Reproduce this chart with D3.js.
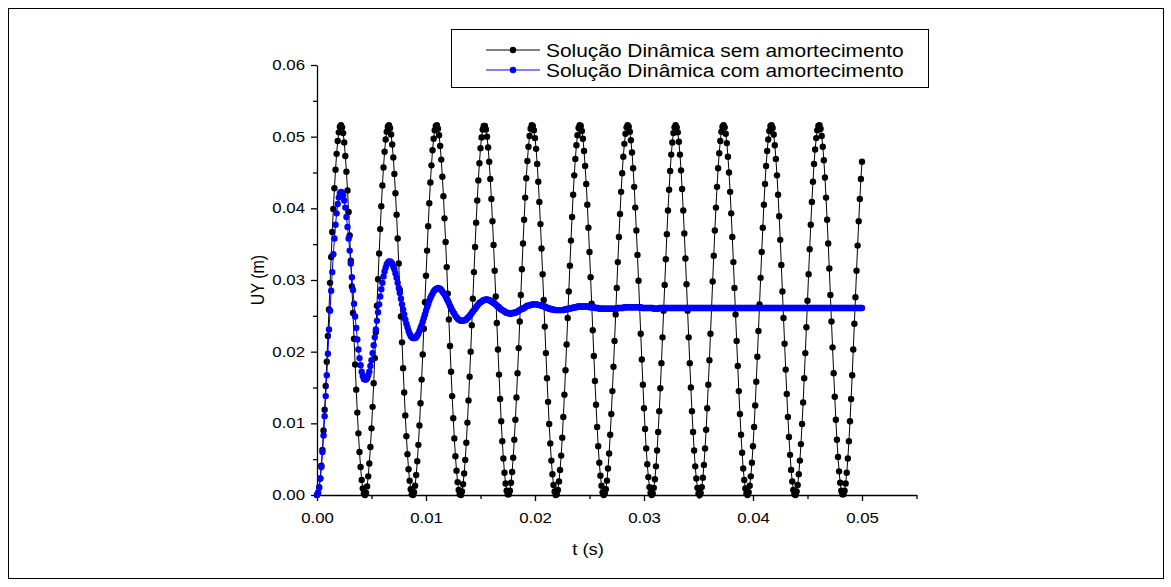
<!DOCTYPE html>
<html>
<head>
<meta charset="utf-8">
<script src="https://cdn.jsdelivr.net/npm/d3@7"></script>
<style>
  html, body { margin: 0; padding: 0; background: #fff; }
  svg { display: block; }
  text { font-family: "Liberation Sans", Arial, sans-serif; fill: #000; }
</style>
</head>
<body>
<svg id="chart" width="1171" height="587"></svg>
<script>
// Sampling interval of both responses (s)
const timeStep = 0.0001;

// UY (m) without damping, one value per time step from t = 0 to t = 0.05 s
const uySemAmortecimento = [
  0.0000,0.0003,0.0011,0.0023,0.0041,0.0063,0.0090,0.0119,0.0152,0.0186,0.0222,0.0259,0.0296,0.0332,0.0367,0.0399,0.0428,0.0454,0.0476,0.0494,0.0506,0.0514,0.0516,0.0513,0.0505,0.0492,0.0473,0.0451,0.0425,0.0395,0.0362,0.0327,0.0291,0.0254,0.0218,0.0182,0.0147,0.0115,0.0086,0.0060,0.0039,0.0021,0.0009,0.0002,
  0.0000,0.0003,0.0012,0.0026,0.0044,0.0067,0.0093,0.0123,0.0156,0.0191,0.0227,0.0264,0.0301,0.0337,0.0371,0.0403,0.0432,0.0457,0.0479,0.0496,0.0507,0.0514,0.0516,0.0512,0.0503,0.0489,0.0471,0.0448,0.0421,0.0391,0.0358,0.0323,0.0286,0.0249,0.0213,0.0177,0.0143,0.0111,0.0082,0.0057,0.0036,0.0020,0.0008,0.0001,
  0.0000,0.0004,0.0013,0.0028,0.0047,0.0070,0.0097,0.0128,0.0161,0.0196,0.0232,0.0269,0.0306,0.0341,0.0375,0.0407,0.0436,0.0460,0.0481,0.0497,0.0509,0.0515,0.0516,0.0511,0.0502,0.0487,0.0468,0.0444,0.0417,0.0386,0.0353,0.0318,0.0281,0.0245,0.0208,0.0172,0.0138,0.0107,0.0079,0.0054,0.0034,0.0018,0.0007,0.0001,
  0.0000,0.0005,0.0015,0.0030,0.0049,0.0073,0.0101,0.0132,0.0165,0.0200,0.0237,0.0274,0.0311,0.0346,0.0380,0.0411,0.0439,0.0463,0.0484,0.0499,0.0510,0.0515,0.0515,0.0510,0.0500,0.0485,0.0465,0.0441,0.0413,0.0382,0.0349,0.0313,0.0277,0.0240,0.0203,0.0168,0.0134,0.0103,0.0075,0.0051,0.0031,0.0016,0.0006,0.0001,
  0.0001,0.0006,0.0017,0.0032,0.0052,0.0077,0.0105,0.0136,0.0170,0.0205,0.0242,0.0279,0.0315,0.0351,0.0384,0.0415,0.0442,0.0466,0.0486,0.0501,0.0511,0.0516,0.0515,0.0509,0.0498,0.0483,0.0462,0.0437,0.0409,0.0378,0.0344,0.0308,0.0272,0.0235,0.0198,0.0163,0.0130,0.0099,0.0072,0.0048,0.0029,0.0014,0.0005,0.0000,
  0.0001,0.0007,0.0019,0.0035,0.0055,0.0080,0.0109,0.0140,0.0174,0.0210,0.0247,0.0284,0.0320,0.0355,0.0388,0.0419,0.0446,0.0469,0.0488,0.0502,0.0512,0.0516,0.0515,0.0508,0.0497,0.0480,0.0459,0.0434,0.0405,0.0373,0.0339,0.0304,0.0267,0.0230,0.0194,0.0159,0.0126,0.0095,0.0068,0.0045,0.0027,0.0013,0.0004,0.0000,
  0.0002,0.0008,0.0020,0.0037,0.0058,0.0084,0.0113,0.0145,0.0179,0.0215,0.0252,0.0289,0.0325,0.0360,0.0392,0.0423,0.0449,0.0472,0.0490,0.0504,0.0513,0.0516,0.0514,0.0507,0.0495,0.0478,0.0456,0.0430,0.0401,0.0369,0.0335,0.0299,0.0262,0.0225,0.0189,0.0154,0.0121,0.0092,0.0065,0.0043,0.0025,0.0011,0.0003,0.0000,
  0.0002,0.0010,0.0022,0.0040,0.0062,0.0088,0.0117,0.0149,0.0184,0.0220,0.0257,0.0293,0.0329,0.0364,0.0397,0.0426,0.0452,0.0475,0.0492,0.0505,0.0513,0.0516,0.0513,0.0506,0.0493,0.0475,0.0453,0.0427,0.0397,0.0365,0.0330,0.0294,0.0257,0.0220,0.0184,0.0150,0.0117,0.0088,0.0062,0.0040,0.0023,0.0010,0.0002,0.0000,
  0.0003,0.0011,0.0024,0.0042,0.0065,0.0091,0.0121,0.0154,0.0188,0.0225,0.0261,0.0298,0.0334,0.0369,0.0401,0.0430,0.0456,0.0477,0.0494,0.0507,0.0514,0.0516,0.0513,0.0504,0.0491,0.0472,0.0450,0.0423,0.0393,0.0360,0.0325,0.0289,0.0252,0.0215,0.0180,0.0145,0.0113,0.0084,0.0059,0.0037,0.0021,0.0009,0.0002,0.0000,
  0.0004,0.0013,0.0026,0.0045,0.0068,0.0095,0.0125,0.0158,0.0193,0.0229,0.0266,0.0303,0.0339,0.0373,0.0405,0.0434,0.0459,0.0480,0.0496,0.0508,0.0515,0.0516,0.0512,0.0503,0.0488,0.0469,0.0446,0.0419,0.0389,0.0356,0.0321,0.0284,0.0247,0.0211,0.0175,0.0141,0.0109,0.0081,0.0056,0.0035,0.0019,0.0007,0.0001,0.0000,
  0.0005,0.0014,0.0029,0.0048,0.0071,0.0099,0.0129,0.0163,0.0198,0.0234,0.0271,0.0308,0.0343,0.0377,0.0409,0.0437,0.0462,0.0482,0.0498,0.0509,0.0515,0.0516,0.0511,0.0501,0.0486,0.0467,0.0443,0.0415,0.0384,0.0351,0.0316,0.0279,0.0242,0.0206,0.0170,0.0137,0.0105,0.0077,0.0053,0.0033,0.0017,0.0006,0.0001,0.0001,
  0.0006,0.0016,0.0031,0.0051,0.0075,0.0103,0.0134,0.0167,0.0203,0.0239,0.0276,0.0313,0.0348,0.0382,0.0413,0.0441,0.0465
];

// UY (m) with damping, same time grid
const uyComAmortecimento = [
  0.0000,0.0003,0.0010,0.0023,0.0039,0.0060,0.0083,0.0110,0.0138,0.0167,
  0.0197,0.0231,0.0257,0.0285,0.0311,0.0336,0.0358,0.0377,0.0393,0.0406,
  0.0415,0.0421,0.0423,0.0422,0.0418,0.0411,0.0401,0.0388,0.0374,0.0358,
  0.0341,0.0323,0.0304,0.0286,0.0267,0.0249,0.0233,0.0217,0.0203,0.0191,
  0.0181,0.0172,0.0166,0.0162,0.0161,0.0161,0.0163,0.0167,0.0172,0.0180,
  0.0188,0.0198,0.0209,0.0220,0.0231,0.0243,0.0255,0.0266,0.0277,0.0287,
  0.0296,0.0305,0.0312,0.0317,0.0322,0.0324,0.0326,0.0326,0.0325,0.0323,
  0.0319,0.0315,0.0309,0.0303,0.0296,0.0289,0.0282,0.0274,0.0266,0.0259,
  0.0252,0.0245,0.0239,0.0234,0.0229,0.0225,0.0222,0.0220,0.0219,0.0219,
  0.0219,0.0220,0.0223,0.0225,0.0229,0.0233,0.0237,0.0242,0.0247,0.0252,
  0.0257,0.0262,0.0266,0.0271,0.0275,0.0278,0.0281,0.0284,0.0286,0.0287,
  0.0288,0.0289,0.0288,0.0288,0.0286,0.0284,0.0282,0.0280,0.0277,0.0274,
  0.0271,0.0268,0.0264,0.0261,0.0258,0.0255,0.0253,0.0250,0.0248,0.0246,
  0.0245,0.0244,0.0243,0.0243,0.0243,0.0244,0.0244,0.0245,0.0247,0.0248,
  0.0250,0.0252,0.0254,0.0256,0.0258,0.0260,0.0262,0.0264,0.0266,0.0268,
  0.0269,0.0270,0.0271,0.0272,0.0272,0.0273,0.0273,0.0272,0.0272,0.0271,
  0.0270,0.0269,0.0268,0.0267,0.0266,0.0264,0.0263,0.0262,0.0260,0.0259,
  0.0258,0.0257,0.0256,0.0255,0.0254,0.0254,0.0254,0.0253,0.0253,0.0254,
  0.0254,0.0254,0.0255,0.0255,0.0256,0.0257,0.0258,0.0259,0.0260,0.0260,
  0.0261,0.0262,0.0263,0.0264,0.0264,0.0265,0.0265,0.0266,0.0266,0.0266,
  0.0266,0.0266,0.0266,0.0265,0.0265,0.0265,0.0264,0.0264,0.0263,0.0263,
  0.0262,0.0261,0.0261,0.0260,0.0260,0.0259,0.0259,0.0259,0.0258,0.0258,
  0.0258,0.0258,0.0258,0.0258,0.0258,0.0258,0.0258,0.0259,0.0259,0.0259,
  0.0260,0.0260,0.0260,0.0261,0.0261,0.0261,0.0262,0.0262,0.0262,0.0263,
  0.0263,0.0263,0.0263,0.0263,0.0263,0.0263,0.0263,0.0263,0.0263,0.0263,
  0.0262,0.0262,0.0262,0.0262,0.0262,0.0261,0.0261,0.0261,0.0261,0.0260,
  0.0260,0.0260,0.0260,0.0260,0.0260,0.0260,0.0260,0.0260,0.0260,0.0260,
  0.0260,0.0260,0.0260,0.0260,0.0260,0.0260,0.0261,0.0261,0.0261,0.0261,
  0.0261,0.0261,0.0262,0.0262,0.0262,0.0262,0.0262,0.0262,0.0262,0.0262,
  0.0262,0.0262,0.0262,0.0262,0.0262,0.0262,0.0262,0.0262,0.0261,0.0261,
  0.0261,0.0261,0.0261,0.0261,0.0261,0.0261,0.0261,0.0261,0.0261,0.0260,
  0.0260,0.0260,0.0260,0.0260,0.0261,0.0261,0.0261,0.0261,0.0261,0.0261,
  0.0261,0.0261,0.0261,0.0261,0.0261,0.0261,0.0261,0.0261,0.0261,0.0261,
  0.0261,0.0261,0.0261,0.0261,0.0261,0.0261,0.0261,0.0261,0.0261,0.0261,
  0.0261,0.0261,0.0261,0.0261,0.0261,0.0261,0.0261,0.0261,0.0261,0.0261,
  0.0261,0.0261,0.0261,0.0261,0.0261,0.0261,0.0261,0.0261,0.0261,0.0261,
  0.0261,0.0261,0.0261,0.0261,0.0261,0.0261,0.0261,0.0261,0.0261,0.0261,
  0.0261,0.0261,0.0261,0.0261,0.0261,0.0261,0.0261,0.0261,0.0261,0.0261,
  0.0261,0.0261,0.0261,0.0261,0.0261,0.0261,0.0261,0.0261,0.0261,0.0261,
  0.0261,0.0261,0.0261,0.0261,0.0261,0.0261,0.0261,0.0261,0.0261,0.0261,
  0.0261,0.0261,0.0261,0.0261,0.0261,0.0261,0.0261,0.0261,0.0261,0.0261,
  0.0261,0.0261,0.0261,0.0261,0.0261,0.0261,0.0261,0.0261,0.0261,0.0261,
  0.0261,0.0261,0.0261,0.0261,0.0261,0.0261,0.0261,0.0261,0.0261,0.0261,
  0.0261,0.0261,0.0261,0.0261,0.0261,0.0261,0.0261,0.0261,0.0261,0.0261,
  0.0261,0.0261,0.0261,0.0261,0.0261,0.0261,0.0261,0.0261,0.0261,0.0261,
  0.0261,0.0261,0.0261,0.0261,0.0261,0.0261,0.0261,0.0261,0.0261,0.0261,
  0.0261,0.0261,0.0261,0.0261,0.0261,0.0261,0.0261,0.0261,0.0261,0.0261,
  0.0261,0.0261,0.0261,0.0261,0.0261,0.0261,0.0261,0.0261,0.0261,0.0261,
  0.0261,0.0261,0.0261,0.0261,0.0261,0.0261,0.0261,0.0261,0.0261,0.0261,
  0.0261,0.0261,0.0261,0.0261,0.0261,0.0261,0.0261,0.0261,0.0261,0.0261,
  0.0261
];

// Axis ticks
const xMajorTicks = [0, 0.01, 0.02, 0.03, 0.04, 0.05];
const xMinorTicks = [0.005, 0.015, 0.025, 0.035, 0.045, 0.055];
const yMajorTicks = [0, 0.01, 0.02, 0.03, 0.04, 0.05, 0.06];
const yMinorTicks = [0.005, 0.015, 0.025, 0.035, 0.045, 0.055];

// Series labels and colours
const legendLabels = ["Solução Dinâmica sem amortecimento", "Solução Dinâmica com amortecimento"];
const seriesColors = ["#000000", "#0000ff"];

const svg = d3.select("#chart");

// Outer frame
svg.append("rect")
  .attr("x", 8.5).attr("y", 8.5).attr("width", 1155).attr("height", 570)
  .attr("fill", "none").attr("stroke", "#000").attr("stroke-width", 1);

const x = d3.scaleLinear().domain([0, 0.055]).range([317, 916.5]);
const y = d3.scaleLinear().domain([0, 0.06]).range([495, 65]);

const TEXT_SX = 1.2;   // horizontal stretch of the tick labels

// X axis
const gx = svg.append("g").attr("transform", "translate(0,495)");
gx.call(d3.axisBottom(x).tickValues(xMajorTicks).tickSize(6).tickPadding(12)
  .tickSizeOuter(0).tickFormat(d3.format(".2f")));
gx.append("g").call(d3.axisBottom(x).tickValues(xMinorTicks).tickSize(4).tickFormat(""))
  .select(".domain").remove();

// Y axis
const gy = svg.append("g").attr("transform", "translate(317,0)");
gy.call(d3.axisLeft(y).tickValues(yMajorTicks).tickSize(6).tickPadding(4)
  .tickSizeOuter(0).tickFormat(d3.format(".2f")));
gy.append("g").call(d3.axisLeft(y).tickValues(yMinorTicks).tickSize(4).tickFormat(""))
  .select(".domain").remove();

[gx, gy].forEach(g => {
  g.attr("font-family", null).attr("font-size", null);
  g.selectAll("path, line").attr("stroke", "#000").attr("stroke-width", 1.3);
  g.selectAll(".tick text")
    .attr("font-size", 14)
    .attr("transform", `scale(${TEXT_SX},1)`);
});

// Response curves: connecting line plus a dot per sample
const line = d3.line()
  .x((d, i) => x(i * timeStep))
  .y(d => y(d));

[uySemAmortecimento, uyComAmortecimento].forEach((vals, s) => {
  const g = svg.append("g");
  g.append("path").datum(vals)
    .attr("d", line)
    .attr("fill", "none")
    .attr("stroke", seriesColors[s])
    .attr("stroke-width", 1);
  g.selectAll("circle").data(vals).join("circle")
    .attr("cx", (d, i) => x(i * timeStep))
    .attr("cy", d => y(d))
    .attr("r", 3.2)
    .attr("fill", seriesColors[s]);
});

// Axis titles
svg.append("text")
  .attr("transform", "translate(588,549) scale(1.15,1)")
  .attr("text-anchor", "middle").attr("dy", "0.35em")
  .attr("font-size", 16)
  .text("t (s)");
svg.append("text")
  .attr("transform", "translate(258,280) scale(1.15,1) rotate(-90)")
  .attr("text-anchor", "middle").attr("dy", "0.35em")
  .attr("font-size", 16)
  .text("UY (m)");

// Legend
const lg = svg.append("g");
lg.append("rect")
  .attr("x", 451.5).attr("y", 29.5).attr("width", 477).attr("height", 58)
  .attr("fill", "#fff").attr("stroke", "#000").attr("stroke-width", 1);
legendLabels.forEach((label, s) => {
  const yy = 50 + s * 20;
  lg.append("line")
    .attr("x1", 486).attr("x2", 540).attr("y1", yy).attr("y2", yy)
    .attr("stroke", seriesColors[s]).attr("stroke-width", 1);
  lg.append("circle")
    .attr("cx", 513).attr("cy", yy).attr("r", 3.2)
    .attr("fill", seriesColors[s]);
  lg.append("text")
    .attr("transform", `translate(546,${yy}) scale(1.1,1)`)
    .attr("dy", "0.35em")
    .attr("font-size", 19)
    .text(label);
});
</script>
</body>
</html>
